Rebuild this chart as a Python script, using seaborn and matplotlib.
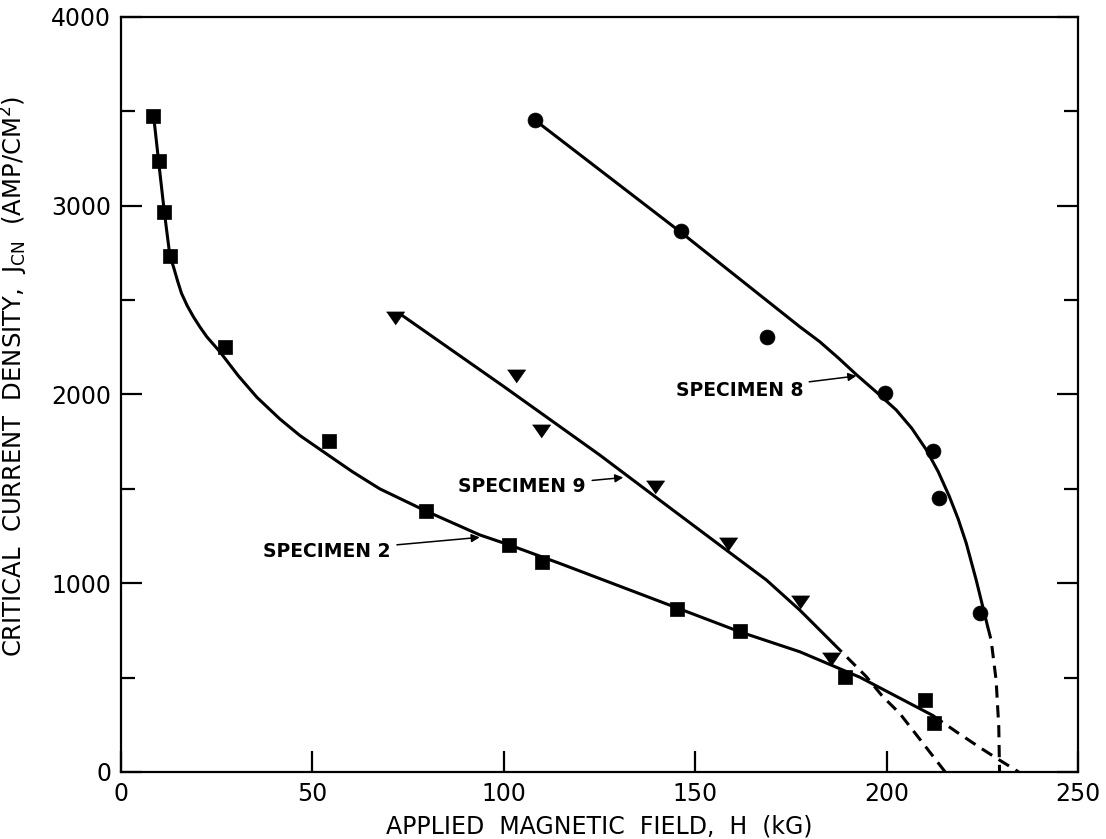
import matplotlib
matplotlib.use("Agg")
import matplotlib.pyplot as plt
from matplotlib.ticker import MultipleLocator
import seaborn as sns

# measured data points (H in kG, J in A/cm^2)
spec2_h = [8.4, 9.8, 11.3, 12.8, 27.2, 54.4, 79.6, 101.4, 110.0, 145.3, 161.6, 189.0, 210.1, 212.4]
spec2_j = [3477, 3239, 2968, 2734, 2253, 1754, 1383, 1203, 1110, 862, 749, 505, 381, 258]

spec9_h = [71.5, 103.1, 109.6, 139.6, 158.6, 177.5, 185.6]
spec9_j = [2404, 2098, 1807, 1508, 1206, 902, 600]

spec8_h = [108.1, 146.2, 168.8, 199.7, 212.1, 213.8, 224.3]
spec8_j = [3454, 2868, 2303, 2006, 1701, 1453, 844]

# hand drawn fit curves
fit2_h = [8.5, 9.8, 11.3, 12.8, 13.7, 14.8, 15.8, 17.3, 18.9, 20.6, 22.4, 25.8, 30.6,
          35.5, 41.5, 46.7, 54.4, 60.5, 67.6, 79.6, 93.7, 101.4, 114.6, 145.0, 162.0,
          177.3, 193.0, 212.0]
fit2_j = [3480, 3240, 2970, 2730, 2677, 2600, 2536, 2470, 2412, 2358, 2306, 2227, 2100,
          1985, 1870, 1783, 1675, 1590, 1500, 1383, 1256, 1203, 1105, 871, 740,
          637, 502, 300]
ext2_h = [212.0, 218.2, 224.7, 229.1, 234.5]
ext2_j = [300, 213, 125, 68, 0]

fit9_h = [73.3, 100.0, 125.0, 145.0, 158.1, 168.6, 177.3, 186.0]
fit9_j = [2421, 2042, 1680, 1375, 1176, 1017, 858, 682]
ext9_h = [186.0, 194.7, 199.0, 203.4, 209.5, 215.3]
ext9_j = [682, 505, 399, 311, 152, 0]

fit8_h = [108.1, 146.2, 177.3, 182.5, 187.3, 192.1, 197.3, 202.5, 206.6, 210.4, 213.5,
          216.4, 218.7, 220.8, 223.4, 226.4]
fit8_j = [3454, 2860, 2359, 2280, 2195, 2105, 2013, 1918, 1820, 1706, 1590,
          1459, 1340, 1212, 1017, 770]
ext8_h = [226.4, 227.3, 228.6, 229.3, 229.5]
ext8_j = [770, 699, 487, 240, 0]

sns.set_theme(style="ticks")
plt.rcParams["font.family"] = ["DejaVu Sans"]
plt.rcParams["mathtext.fontset"] = "dejavusans"
plt.rcParams["text.color"] = "black"
plt.rcParams["axes.labelcolor"] = "black"
plt.rcParams["xtick.color"] = "black"
plt.rcParams["ytick.color"] = "black"

fig = plt.figure(figsize=(11.06, 8.39), dpi=100)
ax = fig.add_axes([0.1094, 0.0799, 0.8653, 0.8999])

lw = 2.2
dash = (0, (4, 2.5))
for h, j in [(fit2_h, fit2_j), (fit9_h, fit9_j), (fit8_h, fit8_j)]:
    sns.lineplot(x=h, y=j, sort=False, estimator=None, color="black", lw=lw, ax=ax)
for h, j in [(ext2_h, ext2_j), (ext9_h, ext9_j), (ext8_h, ext8_j)]:
    sns.lineplot(x=h, y=j, sort=False, estimator=None, color="black", lw=lw,
                 linestyle=dash, ax=ax)

tri = [(-1, 0.72), (1, 0.72), (0, -0.72)]
sns.scatterplot(x=spec2_h, y=spec2_j, marker="s", s=90, color="black",
                edgecolor="black", linewidth=0.5, zorder=3, ax=ax)
sns.scatterplot(x=spec9_h, y=spec9_j, marker=tri, s=170, color="black",
                edgecolor="black", linewidth=0.5, zorder=3, ax=ax)
sns.scatterplot(x=spec8_h, y=spec8_j, marker="o", s=115, color="black",
                edgecolor="black", linewidth=0.5, zorder=3, ax=ax)

arrow = dict(arrowstyle="-|>", color="black", lw=1.1, shrinkA=2, shrinkB=0,
             mutation_scale=12)
lab = dict(ha="right", va="center", fontsize=13.5, fontweight="bold", arrowprops=arrow)
ax.annotate("SPECIMEN 8", xy=(192.1, 2098), xytext=(178.2, 2021), **lab)
ax.annotate("SPECIMEN 9", xy=(131.2, 1560), xytext=(121.5, 1510), **lab)
ax.annotate("SPECIMEN 2", xy=(93.7, 1243), xytext=(70.5, 1170), **lab)

ax.set_xlim(0, 250)
ax.set_ylim(0, 4000)
ax.xaxis.set_major_locator(MultipleLocator(50))
ax.yaxis.set_major_locator(MultipleLocator(1000))
ax.yaxis.set_minor_locator(MultipleLocator(500))
ax.tick_params(which="major", direction="in", length=15, width=1.6,
               labelsize=17, top=False, right=True, pad=7)
ax.tick_params(which="minor", direction="in", length=10, width=1.6,
               left=True, right=True)
ax.tick_params(axis="x", which="minor", bottom=False, top=False)
for sp in ax.spines.values():
    sp.set_visible(True)
    sp.set_linewidth(1.6)
    sp.set_color("black")

ax.set_xlabel("APPLIED  MAGNETIC  FIELD,  H  (kG)", fontsize=17, labelpad=6)
ax.set_ylabel(r"CRITICAL  CURRENT  DENSITY,  J$_{\rm CN}$  (AMP/CM$^{\rm 2}$)",
              fontsize=17.5)
ax.yaxis.set_label_coords(-0.095, 0.524)

fig.savefig("out.png", dpi=100, facecolor="white")
